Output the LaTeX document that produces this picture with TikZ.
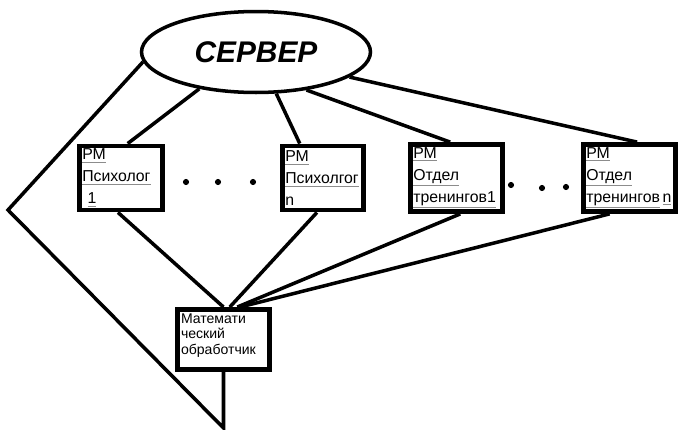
\documentclass[tikz,border=0pt]{standalone}
\usepackage{fontspec}
\setmainfont{Liberation Sans}
\usepackage{tikz}
\usetikzlibrary{shapes.geometric}
\definecolor{ulclr}{rgb}{0.55, 0.55, 0.55}
\newcommand{\rmul}[1]{{\color{ulclr}\underline{\color{black}#1}}}
\tikzset{ %
  ,x=0.02cm, y=-0.02cm
  ,every node/.style={font=\fontsize{9}{12.5}\selectfont}
  ,server/.style={draw, ellipse, line width=2pt, inner sep=0, minimum width=4.58cm, minimum height=1.62cm, font=\fontsize{17}{20}\selectfont\bfseries\itshape}
  ,rmbox/.style={draw, line width=2.8pt, inner sep=1.5pt, minimum height=1.28cm, align=left}
  ,calcbox/.style={draw, line width=2.8pt, inner sep=2pt, minimum width=1.76cm, minimum height=1.20cm, font=\fontsize{8}{8.8}\selectfont}
  ,conn/.style={line width=2pt}
  ,dot/.style={fill, circle, inner sep=0, minimum size=3.5pt}
}
\begin{document}
\begin{tikzpicture}
  \useasboundingbox (0,0) rectangle (681,430);
  \draw
  node[server] (srv) at (256,52) {СЕРВЕР}
  node[rmbox, minimum width=1.66cm, text width=1.55cm] (psy1) at (121,178) {\rmul{РМ}\\\rmul{Психолог}\\\hspace*{3pt}\rmul{1}}
  node[rmbox, minimum width=1.62cm, text width=1.51cm] (psyn) at (323,178) {\rmul{РМ}\\\rmul{Психолгог}\\n}
  node[rmbox, minimum width=1.84cm, text width=1.73cm] (trn1) at (456.5,178) {\rmul{РМ}\\\rmul{Отдел}\\\rmul{тренингов1}}
  node[rmbox, minimum width=1.84cm, text width=1.73cm] (trnn) at (629.5,178) {\rmul{РМ}\\\rmul{Отдел}\\\rmul{тренингов}\,\rmul{n}}
  node[calcbox] (calc) at (223.5,339.5) {\parbox[c][1.03cm][t]{1.7cm}{Математи\\ческий\\обработчик}};
  \coordinate (lc) at (8,210);
  \coordinate (bt) at (223.5,428);
  \foreach \i/\px/\py in {1/186/182,2/218/182,3/253/182,4/511/185,5/542/188,6/566/187}
    \node[dot] (d\i) at (\px,\py) {};
  \draw [conn] (srv.213) edge (psy1.79) (srv.296) edge (psyn.124)
    (srv.323) edge (trn1.100) (srv.345) edge (trnn.78);
  \draw [conn] (psy1.265) edge (calc.north) (psyn.260) edge (calc.79)
    (trn1.276) edge (calc.67) (trnn.241) edge (calc.63);
  \draw [conn, line join=miter] (srv.185) -- (lc) -- (bt) -- (calc.south);
\end{tikzpicture}
\end{document}
